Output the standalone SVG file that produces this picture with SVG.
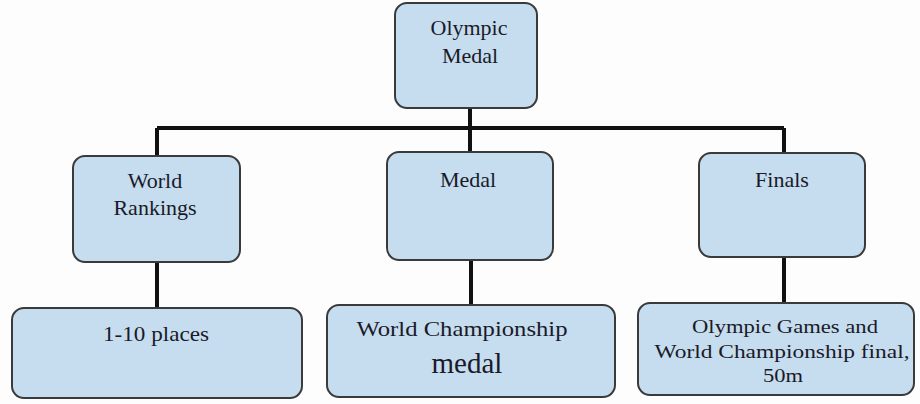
<svg xmlns="http://www.w3.org/2000/svg" width="920" height="404" viewBox="0 0 920 404">
<style>
.box{fill:#c6ddef;stroke:#3a3a3a;stroke-width:2}
.t{font-family:"Liberation Serif","Times New Roman",serif;fill:#1a1a28;text-anchor:middle}
.c{stroke:#111;stroke-width:4;fill:none}
</style>
<rect width="920" height="404" fill="#fdfdfd"/>
<g id="connectors">
<path class="c" d="M470 108V128M157 128H784M157 128V156M470 128V152M784 128V153"/>
<path class="c" d="M157 262V308M471 260V305M784 257V303"/>
</g>
<g id="n-olympic"><rect class="box" x="395" y="3" width="142" height="105" rx="12"/><text class="t" x="469" y="35" font-size="22">Olympic</text><text class="t" x="470" y="63" font-size="22">Medal</text></g>
<g id="n-world"><rect class="box" x="73" y="156" width="167" height="106" rx="12"/><text class="t" x="155" y="188" font-size="22">World</text><text class="t" x="155" y="215" font-size="22">Rankings</text></g>
<g id="n-medal"><rect class="box" x="387" y="152" width="166" height="108" rx="12"/><text class="t" x="468" y="187" font-size="22">Medal</text></g>
<g id="n-finals"><rect class="box" x="699" y="153" width="166" height="104" rx="12"/><text class="t" x="782" y="187" font-size="22">Finals</text></g>
<g id="n-places"><rect class="box" x="12" y="308" width="290" height="90" rx="12"/><text class="t" x="156" y="341" font-size="22" textLength="106" lengthAdjust="spacingAndGlyphs">1-10 places</text></g>
<g id="n-wc"><rect class="box" x="327" y="305" width="288" height="92" rx="12"/><text class="t" x="462" y="336" font-size="21" textLength="211" lengthAdjust="spacingAndGlyphs">World Championship</text><text class="t" x="467" y="373" font-size="29">medal</text></g>
<g id="n-og"><rect class="box" x="638" y="303" width="276" height="92" rx="12"/><text class="t" x="785" y="333" font-size="19" textLength="186" lengthAdjust="spacingAndGlyphs">Olympic Games and</text><text class="t" x="782" y="358" font-size="19" textLength="255" lengthAdjust="spacingAndGlyphs">World Championship final,</text><text class="t" x="783" y="382" font-size="19" textLength="40" lengthAdjust="spacingAndGlyphs">50m</text></g>
</svg>
